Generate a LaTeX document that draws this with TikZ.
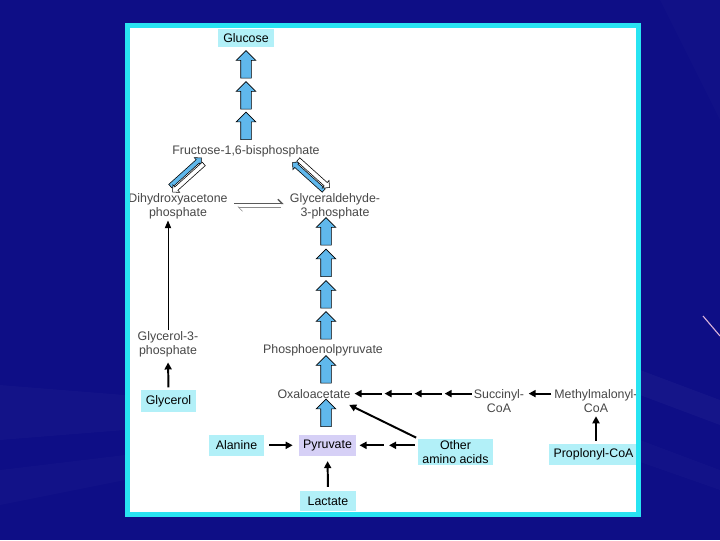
\documentclass[tikz,border=0pt]{standalone}
\usepackage{fontspec}
\setmainfont{Liberation Sans}
\usepackage{tikz}
\usetikzlibrary{arrows.meta,shapes.arrows,calc}
\definecolor{bgnavy}{RGB}{14,14,134}
\definecolor{framecyan}{RGB}{40,228,242}
\definecolor{boxcyan}{RGB}{178,240,248}
\definecolor{pyrlilac}{RGB}{214,208,246}
\definecolor{arrowblue}{RGB}{96,184,236}
\tikzset{
  lbl/.style     = {inner sep=1pt, align=center, text=black!72},
  box/.style     = {fill=boxcyan, inner xsep=3pt, inner ysep=1pt, align=center,
                    minimum width=1.38cm, minimum height=0.53cm},
  pyrbox/.style  = {box, fill=pyrlilac},
  bigup/.style   = {single arrow, draw=black, line width=0.5pt, fill=arrowblue,
                    inner xsep=0pt, inner ysep=0.125cm, single arrow head extend=0.1125cm,
                    minimum height=0.69cm, rotate=90},
  slimarr/.style = {single arrow, draw=black, line width=0.4pt, inner xsep=0pt,
                    inner ysep=0.05cm, single arrow head extend=0.07cm, minimum height=1.05cm},
  flow/.style    = {-{Triangle[length=5pt,width=5pt]}, line width=1.4pt},
  tflow/.style   = {-{Triangle[length=5.5pt,width=4.5pt]}, line width=0.7pt},
}

\begin{document}
\begin{tikzpicture}[x=0.025cm,y=-0.025cm,every node/.style={font=\fontsize{8.8}{10}\selectfont}]
    \useasboundingbox (0,0) rectangle (720,540);
    % slide background
    \fill[bgnavy] (0,0) rectangle (720,540);
    \fill[white,opacity=0.025] (0,385) -- (125,395) -- (125,430) -- (0,440) -- cycle;
    \fill[white,opacity=0.02] (0,470) -- (125,455) -- (125,480) -- (0,505) -- cycle;
    \fill[white,opacity=0.03] (640,370) -- (720,400) -- (720,425) -- (640,395) -- cycle;
    \fill[white,opacity=0.02] (640,440) -- (720,470) -- (720,490) -- (640,462) -- cycle;
    \fill[white,opacity=0.015] (660,0) -- (720,0) -- (720,120) -- cycle;
    \draw[violet!30!white,line width=0.8pt] (703,316) -- (720,336);
    % panel
    \fill[white] (127.5,25.6) rectangle (638.3,514.3);

    % nodes
    \node[box,minimum height=0.45cm] (glc) at (246,38) {Glucose};
    \node[lbl] (fbp) at (246,151.5) {Fructose-1,6-bisphosphate};
    \node[lbl] (dhap) at (178,206) {Dihydroxyacetone\\phosphate};
    \node[lbl] (g3p) at (335,206) {Glyceraldehyde-\\3-phosphate};
    \node[lbl] (gol3p) at (168,344) {Glycerol-3-\\phosphate};
    \node[box] (gol) at (168.5,401) {Glycerol};
    \node[lbl] (pep) at (323,350.5) {Phosphoenolpyruvate};
    \node[lbl] (oaa) at (314,393.6) {Oxaloacetate};
    \node[lbl] (succ) at (499,401) {Succinyl-\\CoA};
    \node[lbl] (mmcoa) at (596,401) {Methylmalonyl-\\CoA};
    \node[box] (prop) at (593.5,454.5) {Proplonyl-CoA};
    \node[pyrbox] (pyr) at (327.5,445.3) {Pyruvate};
    \node[box] (ala) at (236.5,445.3) {Alanine};
    \node[box] (oth) at (455.5,451.8) {Other\\amino acids};
    \node[box,minimum height=0.5cm] (lac) at (328,501) {Lactate};

    % big blue steps
    \foreach \y in {67,98,128.5}
      \node[bigup] (up\y) at (246,\y) {};
    \foreach \y in {234,265.5,297,328,372,415.5}
      \node[bigup] (rup\y) at (326,\y) {};

    % fbp <-> triose phosphates
    \node[slimarr,fill=arrowblue,rotate=42] (fdl) at (185,172.8) {};
    \node[slimarr,fill=white,rotate=222] (fdr) at (189,177.2) {};
    \node[slimarr,fill=arrowblue,rotate=138] (fgl) at (309,177.2) {};
    \node[slimarr,fill=white,rotate=-42] (fgr) at (313,172.8) {};

    % triose phosphate isomerase
    \draw[black!65,line width=0.9pt,-{Straight Barb[left,length=3pt]},shorten <=3.5pt,shorten >=3.3pt]
      ([yshift=1.8pt]dhap.east) -- ([yshift=1.8pt]g3p.west);
    \draw[black!45,line width=0.4pt,-{Straight Barb[left,length=3pt]},shorten <=5pt,shorten >=6pt]
      ([yshift=-0.7pt]g3p.west) -- ([yshift=-0.7pt]dhap.east);

    % black arrows
    \draw[tflow] (gol3p.north) -- (gol3p.north |- dhap.south);
    \draw[flow,shorten <=2pt,shorten >=2.8pt] (gol.north) -- (gol3p.south);
    \draw[flow,shorten <=2.8pt,shorten >=3.5pt] (lac.north) -- (pyr.south);
    \draw[flow,shorten <=3.3pt,shorten >=4.2pt] (ala.east) -- (pyr.west);
    \foreach \a/\b in {0.05/0.47,0.56/0.95}
      \draw[flow] ($(oth.west |- pyr)!\a!(pyr.east)$) -- ($(oth.west |- pyr)!\b!(pyr.east)$);
    \draw[flow,shorten <=1.5pt] (oth.north west) -- ($(oaa.south east)+(-3,5)$);
    \foreach \i in {0,1,2,3}
      \draw[flow] ($(succ.west |- oaa)!{\i*0.25+0.005}!(oaa.east)$)
               -- ($(succ.west |- oaa)!{\i*0.25+0.23}!(oaa.east)$);
    \draw[flow,shorten <=1pt,shorten >=2pt] (mmcoa.west |- oaa) -- (succ.east |- oaa);
    \draw[flow,shorten <=2pt,shorten >=1.4pt] (prop.north -| mmcoa) -- (mmcoa.south);

    % panel frame
    \draw[framecyan,line width=3.2pt] (127.5,25.6) rectangle (638.3,514.3);
\end{tikzpicture}
\end{document}
